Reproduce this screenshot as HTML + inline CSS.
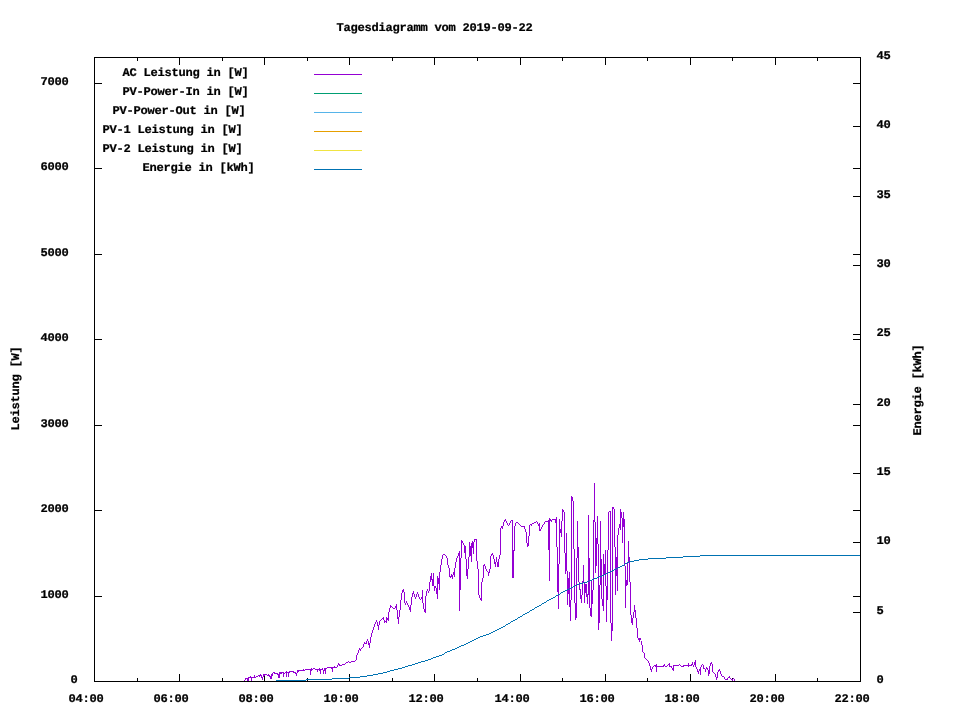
<!DOCTYPE html>
<html lang="de"><head><meta charset="utf-8"><title>Tagesdiagramm vom 2019-09-22</title>
<style>html,body{margin:0;padding:0;background:#fff}body{width:960px;height:720px;overflow:hidden}svg{display:block}text{font-family:"Liberation Mono","DejaVu Sans Mono",monospace;font-weight:bold;font-size:12.100px;letter-spacing:-0.2612px;fill:#000;stroke:#000;stroke-width:0.25px;white-space:pre;text-rendering:geometricPrecision}</style></head><body>
<svg width="960" height="720" viewBox="0 0 960 720">
<rect width="960" height="720" fill="#fff"/>
<g fill="#000" shape-rendering="crispEdges">
<rect x="137" y="678" width="1" height="4"/>
<rect x="137" y="57" width="1" height="4"/>
<rect x="179" y="674" width="1" height="8"/>
<rect x="179" y="57" width="1" height="8"/>
<rect x="222" y="678" width="1" height="4"/>
<rect x="222" y="57" width="1" height="4"/>
<rect x="264" y="674" width="1" height="8"/>
<rect x="264" y="57" width="1" height="8"/>
<rect x="307" y="678" width="1" height="4"/>
<rect x="307" y="57" width="1" height="4"/>
<rect x="349" y="674" width="1" height="8"/>
<rect x="349" y="57" width="1" height="8"/>
<rect x="392" y="678" width="1" height="4"/>
<rect x="392" y="57" width="1" height="4"/>
<rect x="434" y="674" width="1" height="8"/>
<rect x="434" y="57" width="1" height="8"/>
<rect x="477" y="678" width="1" height="4"/>
<rect x="477" y="57" width="1" height="4"/>
<rect x="520" y="674" width="1" height="8"/>
<rect x="520" y="57" width="1" height="8"/>
<rect x="562" y="678" width="1" height="4"/>
<rect x="562" y="57" width="1" height="4"/>
<rect x="605" y="674" width="1" height="8"/>
<rect x="605" y="57" width="1" height="8"/>
<rect x="647" y="678" width="1" height="4"/>
<rect x="647" y="57" width="1" height="4"/>
<rect x="690" y="674" width="1" height="8"/>
<rect x="690" y="57" width="1" height="8"/>
<rect x="732" y="678" width="1" height="4"/>
<rect x="732" y="57" width="1" height="4"/>
<rect x="775" y="674" width="1" height="8"/>
<rect x="775" y="57" width="1" height="8"/>
<rect x="817" y="678" width="1" height="4"/>
<rect x="817" y="57" width="1" height="4"/>
<rect x="94" y="596" width="8" height="1"/>
<rect x="853" y="596" width="8" height="1"/>
<rect x="94" y="510" width="8" height="1"/>
<rect x="853" y="510" width="8" height="1"/>
<rect x="94" y="425" width="8" height="1"/>
<rect x="853" y="425" width="8" height="1"/>
<rect x="94" y="339" width="8" height="1"/>
<rect x="853" y="339" width="8" height="1"/>
<rect x="94" y="254" width="8" height="1"/>
<rect x="853" y="254" width="8" height="1"/>
<rect x="94" y="168" width="8" height="1"/>
<rect x="853" y="168" width="8" height="1"/>
<rect x="94" y="83" width="8" height="1"/>
<rect x="853" y="83" width="8" height="1"/>
<rect x="853" y="612" width="8" height="1"/>
<rect x="853" y="542" width="8" height="1"/>
<rect x="853" y="473" width="8" height="1"/>
<rect x="853" y="404" width="8" height="1"/>
<rect x="853" y="334" width="8" height="1"/>
<rect x="853" y="265" width="8" height="1"/>
<rect x="853" y="196" width="8" height="1"/>
<rect x="853" y="126" width="8" height="1"/>
</g>
<path fill="none" stroke="#9400d3" stroke-width="1" shape-rendering="crispEdges" d="M244.5,680V681M245.5,678V680M246.5,678V679M247.5,678V681M248.5,677V681M249.5,677V678M250.5,676V678M251.5,677V681M252.5,677V678M253.5,677V678M254.5,675V678M255.5,677V678M256.5,676V677M257.5,676V677M258.5,675V676M259.5,675V677M260.5,674V676M261.5,675V678M262.5,677V680M263.5,674V677M264.5,674V676M265.5,674V675M266.5,674V675M267.5,675V676M268.5,674V676M269.5,675V677M270.5,676V679M271.5,674V679M272.5,673V676M273.5,672V673M274.5,672V674M275.5,673V674M276.5,673V674M277.5,673V675M278.5,674V678M279.5,672V678M280.5,672V674M281.5,672V674M282.5,672V673M283.5,672V677M284.5,673V674M285.5,672V673M286.5,671V677M287.5,672V673M288.5,672V677M289.5,671V673M290.5,671V672M291.5,671V672M292.5,671V672M293.5,671V673M294.5,672V673M295.5,672V674M296.5,673V676M297.5,670V673M298.5,670V672M299.5,670V671M300.5,670V671M301.5,670V671M302.5,670V671M303.5,669V671M304.5,670V671M305.5,669V670M306.5,669V670M307.5,669V670M308.5,669V670M309.5,669V670M310.5,669V675M311.5,668V671M312.5,669V670M313.5,668V669M314.5,668V669M315.5,669V670M316.5,669V670M317.5,669V672M318.5,669V670M319.5,668V671M320.5,669V674M321.5,669V670M322.5,668V670M323.5,670V674M324.5,668V671M325.5,668V674M326.5,668V669M327.5,667V668M328.5,667V668M329.5,667V668M330.5,667V668M331.5,667V669M332.5,667V672M333.5,667V668M334.5,666V668M335.5,667V668M336.5,667V668M337.5,665V667M338.5,663V665M339.5,664V666M340.5,665V666M341.5,665V666M342.5,664V665M343.5,664V665M344.5,664V665M345.5,663V664M346.5,662V663M347.5,662V663M348.5,661V662M349.5,662V663M350.5,662V663M351.5,661V662M352.5,661V662M353.5,661V662M354.5,661V662M355.5,660V661M356.5,655V660M357.5,653V655M358.5,650V653M359.5,648V650M360.5,649V651M361.5,648V649M362.5,647V648M363.5,644V647M364.5,642V644M365.5,643V644M366.5,641V644M367.5,639V641M368.5,641V645M369.5,643V648M370.5,637V643M371.5,633V637M372.5,630V633M373.5,627V630M374.5,624V627M375.5,622V624M376.5,620V622M377.5,622V626M378.5,625V630M379.5,621V625M380.5,620V621M381.5,619V620M382.5,618V619M383.5,617V620M384.5,620V623M385.5,621V622M386.5,617V623M387.5,618V620M388.5,612V621M389.5,608V612M390.5,605V608M391.5,606V607M392.5,607V608M393.5,608V609M394.5,608V609M395.5,606V608M396.5,604V610M397.5,610V619M398.5,617V624M399.5,610V617M400.5,600V610M401.5,593V600M402.5,590V593M403.5,589V592M404.5,592V603M405.5,603V605M406.5,601V603M407.5,603V605M408.5,605V607M409.5,607V610M410.5,605V612M411.5,597V605M412.5,593V597M413.5,591V594M414.5,594V597M415.5,597V599M416.5,594V597M417.5,592V594M418.5,594V597M419.5,597V599M420.5,599V600M421.5,597V599M422.5,590V603M423.5,603V609M424.5,609V612M425.5,596V613M426.5,591V596M427.5,589V591M428.5,591V593M429.5,582V591M430.5,576V582M431.5,573V580M432.5,579V586M433.5,573V586M434.5,586V591M435.5,586V588M436.5,588V594M437.5,576V599M438.5,578V584M439.5,572V590M440.5,565V572M441.5,559V565M442.5,555V559M443.5,554V555M444.5,554V555M445.5,555V556M446.5,556V558M447.5,558V565M448.5,565V568M449.5,568V577M450.5,576V578M451.5,574V577M452.5,575V579M453.5,572V575M454.5,568V577M455.5,562V568M456.5,558V562M457.5,556V558M458.5,553V556M459.5,551V611M460.5,558V590M461.5,540V558M462.5,541V543M463.5,543V545M464.5,545V553M465.5,546V559M466.5,559V576M467.5,569V579M468.5,557V569M469.5,542V557M470.5,546V556M471.5,543V562M472.5,541V548M473.5,542V554M474.5,539V542M475.5,539V540M476.5,539V561M477.5,561V569M478.5,569V595M479.5,595V598M480.5,598V600M481.5,582V601M482.5,578V582M483.5,565V578M484.5,564V566M485.5,566V569M486.5,569V571M487.5,571V572M488.5,572V576M489.5,569V573M490.5,556V569M491.5,554V556M492.5,553V555M493.5,555V559M494.5,559V564M495.5,562V567M496.5,557V562M497.5,562V567M498.5,559V567M499.5,555V559M500.5,528V555M501.5,526V528M502.5,526V529M503.5,522V526M504.5,520V522M505.5,519V521M506.5,521V523M507.5,523V525M508.5,525V526M509.5,523V525M510.5,521V523M511.5,520V521M512.5,520V578M513.5,550V578M514.5,526V551M515.5,523V526M516.5,522V523M517.5,522V523M518.5,523V524M519.5,524V525M520.5,525V526M521.5,526V527M522.5,526V527M523.5,526V527M524.5,526V529M525.5,529V532M526.5,532V543M527.5,543V547M528.5,536V546M529.5,525V536M530.5,524V525M531.5,524V526M532.5,523V524M533.5,523V524M534.5,522V523M535.5,522V523M536.5,521V522M537.5,522V524M538.5,524V526M539.5,523V531M540.5,529V531M541.5,527V529M542.5,525V527M543.5,524V525M544.5,522V524M545.5,521V522M546.5,521V522M547.5,521V522M548.5,520V550M549.5,518V581M550.5,519V521M551.5,520V522M552.5,519V520M553.5,519V520M554.5,519V520M555.5,519V523M556.5,517V547M557.5,547V592M558.5,564V609M559.5,519V564M560.5,529V533M561.5,521V537M562.5,509V521M563.5,510V512M564.5,512V553M565.5,553V574M566.5,533V571M567.5,571V605M568.5,578V594M569.5,572V607M570.5,600V621M571.5,496V600M572.5,497V501M573.5,501V549M574.5,549V603M575.5,603V620M576.5,558V618M577.5,521V558M578.5,547V582M579.5,582V590M580.5,589V599M581.5,595V603M582.5,581V595M583.5,565V583M584.5,583V603M585.5,584V593M586.5,584V597M587.5,594V604M588.5,515V595M589.5,558V608M590.5,608V616M591.5,581V617M592.5,590V604M593.5,520V590M594.5,483V522M595.5,522V573M596.5,538V566M597.5,516V544M598.5,544V630M599.5,585V623M600.5,521V585M601.5,559V599M602.5,599V606M603.5,554V611M604.5,564V575M605.5,550V586M606.5,586V622M607.5,550V600M608.5,512V550M609.5,511V512M610.5,511V623M611.5,623V641M612.5,507V631M613.5,507V509M614.5,509V547M615.5,547V595M616.5,557V576M617.5,535V591M618.5,528V535M619.5,524V528M620.5,509V530M621.5,512V518M622.5,518V543M623.5,512V527M624.5,519V566M625.5,566V608M626.5,580V586M627.5,562V585M628.5,541V562M629.5,557V582M630.5,582V615M631.5,615V623M632.5,618V625M633.5,612V618M634.5,605V612M635.5,610V618M636.5,618V628M637.5,628V638M638.5,638V640M639.5,638V642M640.5,638V640M641.5,641V645M642.5,645V652M643.5,652V653M644.5,653V658M645.5,658V659M646.5,659V660M647.5,660V661M648.5,661V663M649.5,663V666M650.5,666V670M651.5,669V672M652.5,667V669M653.5,666V667M654.5,665V666M655.5,665V667M656.5,664V672M657.5,666V667M658.5,666V667M659.5,666V667M660.5,666V667M661.5,666V667M662.5,666V667M663.5,665V667M664.5,664V666M665.5,666V667M666.5,666V667M667.5,665V666M668.5,664V665M669.5,663V667M670.5,666V667M671.5,666V668M672.5,668V670M673.5,665V671M674.5,665V666M675.5,665V666M676.5,665V666M677.5,665V666M678.5,665V666M679.5,664V665M680.5,665V666M681.5,666V667M682.5,666V667M683.5,665V667M684.5,665V666M685.5,665V666M686.5,665V666M687.5,665V666M688.5,663V667M689.5,665V666M690.5,665V666M691.5,664V666M692.5,662V665M693.5,665V667M694.5,662V665M695.5,660V667M696.5,667V669M697.5,669V672M698.5,671V674M699.5,669V671M700.5,667V675M701.5,665V667M702.5,664V665M703.5,665V669M704.5,668V669M705.5,669V672M706.5,667V669M707.5,668V670M708.5,670V676M709.5,666V674M710.5,663V666M711.5,662V664M712.5,664V672M713.5,672V673M714.5,673V674M715.5,674V677M716.5,677V680M717.5,672V678M718.5,670V672M719.5,669V671M720.5,671V674M721.5,674V676M722.5,676V677M723.5,676V677M724.5,677V679M725.5,679V680M726.5,679V680M727.5,678V680M728.5,677V678M729.5,676V678M730.5,678V679M731.5,679V680M732.5,679V681M733.5,678V679M734.5,679V682"/>
<path fill="none" stroke="#0072b2" stroke-width="1" shape-rendering="crispEdges" d="M700,555.5H861M683,556.5H700M666,557.5H683M648,558.5H666M639,559.5H648M634,560.5H639M629,561.5H634M627,562.5H629M625,563.5H627M624,564.5H625M622,565.5H624M620,566.5H622M618,567.5H620M616,568.5H618M614,569.5H616M612,570.5H614M610,571.5H612M608,572.5H610M606,573.5H608M604,574.5H606M602,575.5H604M599,576.5H602M597,577.5H599M594,578.5H597M592,579.5H594M589,580.5H592M587,581.5H589M583,582.5H587M579,583.5H583M577,584.5H579M575,585.5H577M573,586.5H575M571,587.5H573M569,588.5H571M567,589.5H569M565,590.5H567M563,591.5H565M561,592.5H563M560,593.5H561M558,594.5H560M556,595.5H558M555,596.5H556M553,597.5H555M551,598.5H553M549,599.5H551M547,600.5H549M546,601.5H547M544,602.5H546M542,603.5H544M541,604.5H542M539,605.5H541M537,606.5H539M535,607.5H537M534,608.5H535M532,609.5H534M530,610.5H532M529,611.5H530M527,612.5H529M525,613.5H527M523,614.5H525M522,615.5H523M520,616.5H522M518,617.5H520M517,618.5H518M515,619.5H517M513,620.5H515M511,621.5H513M510,622.5H511M508,623.5H510M506,624.5H508M505,625.5H506M503,626.5H505M501,627.5H503M499,628.5H501M497,629.5H499M495,630.5H497M493,631.5H495M491,632.5H493M489,633.5H491M486,634.5H489M483,635.5H486M480,636.5H483M478,637.5H480M476,638.5H478M474,639.5H476M472,640.5H474M470,641.5H472M468,642.5H470M466,643.5H468M464,644.5H466M461,645.5H464M459,646.5H461M457,647.5H459M455,648.5H457M452,649.5H455M450,650.5H452M447,651.5H450M445,652.5H447M444,653.5H445M442,654.5H444M439,655.5H442M436,656.5H439M433,657.5H436M431,658.5H433M428,659.5H431M425,660.5H428M421,661.5H425M418,662.5H421M415,663.5H418M412,664.5H415M408,665.5H412M405,666.5H408M402,667.5H405M398,668.5H402M394,669.5H398M390,670.5H394M387,671.5H390M383,672.5H387M378,673.5H383M373,674.5H378M367,675.5H373M360,676.5H367M349,677.5H360M332,678.5H349M306,679.5H332M276,680.5H306"/>
<g shape-rendering="crispEdges">
<rect x="314" y="74" width="48" height="1" fill="#9400d3"/>
<rect x="314" y="93" width="48" height="1" fill="#009e73"/>
<rect x="314" y="112" width="48" height="1" fill="#56b4e9"/>
<rect x="314" y="131" width="48" height="1" fill="#e69f00"/>
<rect x="314" y="150" width="48" height="1" fill="#f0e442"/>
<rect x="314" y="169" width="48" height="1" fill="#0072b2"/>
</g>
<g fill="#000" shape-rendering="crispEdges">
<rect x="94" y="57" width="767" height="1"/>
<rect x="94" y="681" width="767" height="1"/>
<rect x="94" y="57" width="1" height="625"/>
<rect x="860" y="57" width="1" height="625"/>
</g>
<text transform="translate(336.6,31) scale(1,0.97)">Tagesdiagramm vom 2019-09-22</text>
<text transform="translate(68.6,702) scale(1,0.97)">04:00</text>
<text transform="translate(153.6,702) scale(1,0.97)">06:00</text>
<text transform="translate(238.6,702) scale(1,0.97)">08:00</text>
<text transform="translate(323.6,702) scale(1,0.97)">10:00</text>
<text transform="translate(408.6,702) scale(1,0.97)">12:00</text>
<text transform="translate(494.6,702) scale(1,0.97)">14:00</text>
<text transform="translate(579.6,702) scale(1,0.97)">16:00</text>
<text transform="translate(664.6,702) scale(1,0.97)">18:00</text>
<text transform="translate(749.6,702) scale(1,0.97)">20:00</text>
<text transform="translate(834.6,702) scale(1,0.97)">22:00</text>
<text transform="translate(70.6,683) scale(1,0.97)">0</text>
<text transform="translate(40.6,598) scale(1,0.97)">1000</text>
<text transform="translate(40.6,512) scale(1,0.97)">2000</text>
<text transform="translate(40.6,427) scale(1,0.97)">3000</text>
<text transform="translate(40.6,341) scale(1,0.97)">4000</text>
<text transform="translate(40.6,256) scale(1,0.97)">5000</text>
<text transform="translate(40.6,170) scale(1,0.97)">6000</text>
<text transform="translate(40.6,85) scale(1,0.97)">7000</text>
<text transform="translate(876.6,683) scale(1,0.97)">0</text>
<text transform="translate(876.6,614) scale(1,0.97)">5</text>
<text transform="translate(876.6,544) scale(1,0.97)">10</text>
<text transform="translate(876.6,475) scale(1,0.97)">15</text>
<text transform="translate(876.6,406) scale(1,0.97)">20</text>
<text transform="translate(876.6,336) scale(1,0.97)">25</text>
<text transform="translate(876.6,267) scale(1,0.97)">30</text>
<text transform="translate(876.6,198) scale(1,0.97)">35</text>
<text transform="translate(876.6,128) scale(1,0.97)">40</text>
<text transform="translate(876.6,59) scale(1,0.97)">45</text>
<text transform="translate(122.6,76) scale(1,0.97)">AC Leistung in [W]</text>
<text transform="translate(122.6,95) scale(1,0.97)">PV-Power-In in [W]</text>
<text transform="translate(112.6,114) scale(1,0.97)">PV-Power-Out in [W]</text>
<text transform="translate(102.6,133) scale(1,0.97)">PV-1 Leistung in [W]</text>
<text transform="translate(102.6,152) scale(1,0.97)">PV-2 Leistung in [W]</text>
<text transform="translate(142.6,171) scale(1,0.97)">Energie in [kWh]</text>
<text transform="translate(19,430.4) rotate(-90) scale(1,0.97)">Leistung [W]</text>
<text transform="translate(921,435.4) rotate(-90) scale(1,0.97)">Energie [kWh]</text>
</svg></body></html>
